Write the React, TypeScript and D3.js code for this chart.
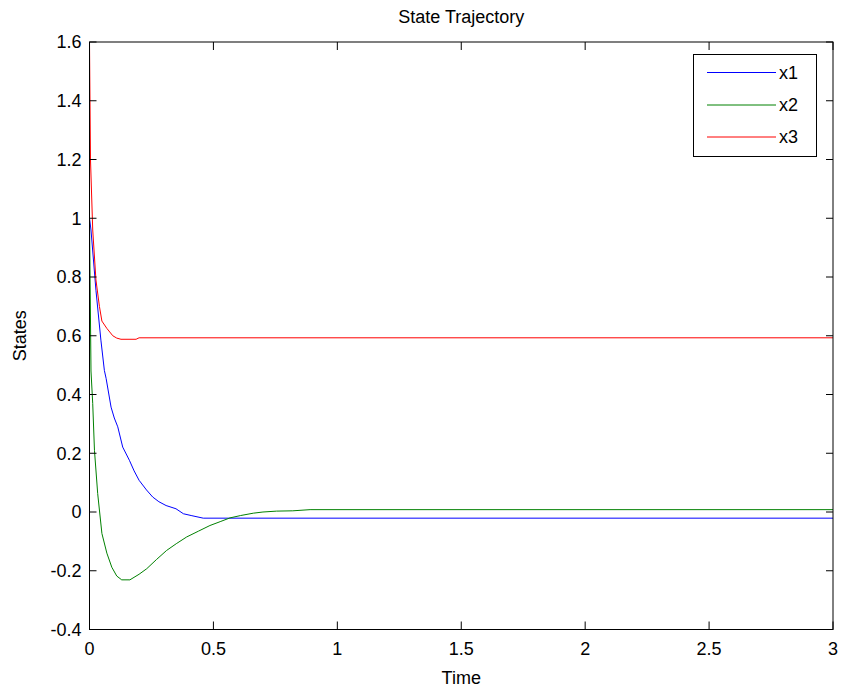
import React from "react";
import * as d3 from "d3";

const xTicks = [0, 0.5, 1, 1.5, 2, 2.5, 3];
const yTicks = [-0.4, -0.2, 0, 0.2, 0.4, 0.6, 0.8, 1, 1.2, 1.4, 1.6];
const seriesNames = ["x1", "x2", "x3"];
const seriesColors = ["#0000ff", "#008000", "#ff0000"];

const tX1 = [0, 0.006, 0.026, 0.046, 0.06, 0.067, 0.087, 0.1, 0.114, 0.134, 0.161, 0.18, 0.2, 0.23, 0.255, 0.28, 0.309, 0.349, 0.379, 0.41, 0.459, 3];
const vX1 = [1.0, 0.96, 0.755, 0.585, 0.482, 0.455, 0.357, 0.32, 0.29, 0.221, 0.176, 0.14, 0.108, 0.075, 0.051, 0.035, 0.022, 0.011, -0.006, -0.012, -0.021, -0.021];

const tX2 = [0, 0.006, 0.013, 0.02, 0.033, 0.05, 0.07, 0.09, 0.11, 0.13, 0.163, 0.2, 0.231, 0.27, 0.311, 0.35, 0.392, 0.44, 0.486, 0.53, 0.567, 0.61, 0.661, 0.7, 0.755, 0.82, 0.89, 3];
const vX2 = [1.0, 0.48, 0.369, 0.21, 0.063, -0.073, -0.14, -0.188, -0.218, -0.231, -0.231, -0.212, -0.193, -0.162, -0.131, -0.108, -0.085, -0.065, -0.046, -0.032, -0.02, -0.012, -0.004, 0.0, 0.003, 0.004, 0.008, 0.008];

const tX3 = [0, 0.004, 0.013, 0.026, 0.04, 0.05, 0.07, 0.094, 0.11, 0.127, 0.188, 0.2, 3];
const vX3 = [1.6, 1.2, 0.96, 0.79, 0.7, 0.65, 0.625, 0.6, 0.592, 0.588, 0.588, 0.593, 0.593];

const seriesT = [tX1, tX2, tX3];
const seriesV = [vX1, vX2, vX3];

const W = 842;
const H = 691;
const left = 89.5;
const right = 833;
const top = 42;
const bottom = 629.5;
const font = "Liberation Sans, Arial, Helvetica, sans-serif";
const fs = 18;

export default function App() {
  const x = d3.scaleLinear().domain([0, 3]).range([left, right]);
  const y = d3.scaleLinear().domain([-0.4, 1.6]).range([bottom, top]);
  const line = d3
    .line<[number, number]>()
    .x((d) => x(d[0]))
    .y((d) => y(d[1]));

  const legendX0 = 693.5;
  const legendY0 = 54.5;
  const legendW = 123;
  const legendH = 102;
  const legendRowY = [72.5, 105, 137];

  return (
    <svg
      width={W}
      height={H}
      style={{ position: "absolute", left: 0, top: 0, background: "#fff" }}
      fontFamily={font}
    >
      <rect x={0} y={0} width={W} height={H} fill="#fff" />
      <defs>
        <clipPath id="plotclip">
          <rect x={left} y={top} width={right - left} height={bottom - top} />
        </clipPath>
      </defs>
      <rect x={left} y={top} width={right - left} height={bottom - top} fill="#fff" />

      {/* series */}
      <g clipPath="url(#plotclip)">
        {seriesT.map((ts, i) => {
          const pts: [number, number][] = ts.map((t, j) => [t, seriesV[i][j]]);
          return (
            <path
              key={i}
              d={line(pts) || ""}
              fill="none"
              stroke={seriesColors[i]}
              strokeWidth={1}
            />
          );
        })}
      </g>

      {/* axes box */}
      <rect
        x={left}
        y={top}
        width={right - left}
        height={bottom - top}
        fill="none"
        stroke="#000"
        strokeWidth={1}
      />

      {/* x ticks */}
      {xTicks.map((t) => (
        <g key={"x" + t}>
          <line x1={x(t)} x2={x(t)} y1={bottom} y2={bottom - 8} stroke="#000" />
          <line x1={x(t)} x2={x(t)} y1={top} y2={top + 8} stroke="#000" />
          <text x={x(t)} y={655} textAnchor="middle" fontSize={fs} fill="#000">
            {String(t)}
          </text>
        </g>
      ))}

      {/* y ticks */}
      {yTicks.map((v) => (
        <g key={"y" + v}>
          <line x1={left} x2={left + 7} y1={y(v)} y2={y(v)} stroke="#000" />
          <line x1={right} x2={right - 7} y1={y(v)} y2={y(v)} stroke="#000" />
          <text
            x={left - 8}
            y={y(v)}
            dy="0.36em"
            textAnchor="end"
            fontSize={fs}
            fill="#000"
          >
            {String(v)}
          </text>
        </g>
      ))}

      {/* title and labels */}
      <text x={(left + right) / 2} y={23} textAnchor="middle" fontSize={fs} fill="#000">
        State Trajectory
      </text>
      <text x={(left + right) / 2} y={684} textAnchor="middle" fontSize={fs} fill="#000">
        Time
      </text>
      <text
        transform={`translate(26, ${(top + bottom) / 2}) rotate(-90)`}
        textAnchor="middle"
        fontSize={fs}
        fill="#000"
      >
        States
      </text>

      {/* legend */}
      <rect
        x={legendX0}
        y={legendY0}
        width={legendW}
        height={legendH}
        fill="#fff"
        stroke="#000"
        strokeWidth={1}
      />
      {seriesNames.map((n, i) => (
        <g key={n}>
          <line
            x1={707}
            x2={776}
            y1={legendRowY[i]}
            y2={legendRowY[i]}
            stroke={seriesColors[i]}
            strokeWidth={1}
          />
          <text x={779} y={legendRowY[i]} dy="0.36em" fontSize={fs} fill="#000">
            {n}
          </text>
        </g>
      ))}
    </svg>
  );
}
